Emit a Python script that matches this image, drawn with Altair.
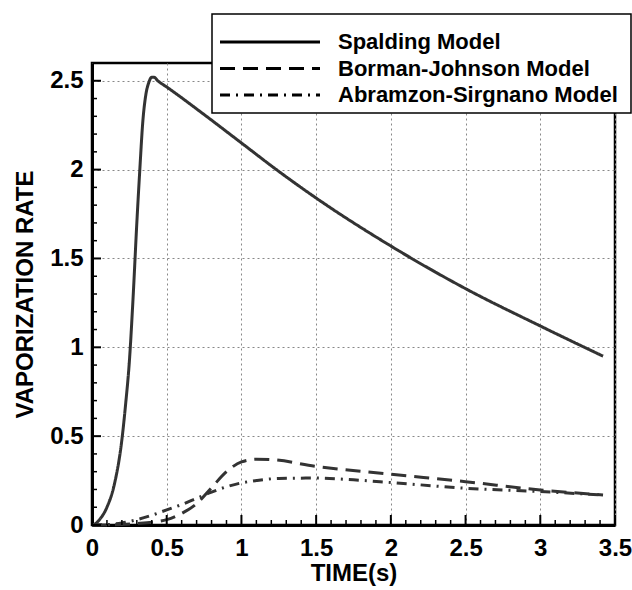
import altair as alt
import pandas as pd

series_names = ["Spalding Model", "Borman-Johnson Model", "Abramzon-Sirgnano Model"]

spald_t = [0, 0.027, 0.05, 0.1, 0.15, 0.2, 0.225, 0.25, 0.275, 0.3, 0.32, 0.34, 0.36, 0.38, 0.4, 0.415,
           0.44, 0.5, 0.75, 1.0, 1.25, 1.5, 2.0, 2.5, 3.0, 3.42]
spald_v = [0, 0.01, 0.03, 0.10, 0.23, 0.48, 0.68, 0.92, 1.28, 1.70, 2.0, 2.27, 2.42, 2.49, 2.52, 2.52,
           2.50, 2.465, 2.31, 2.15, 1.99, 1.84, 1.57, 1.33, 1.12, 0.95]

bj_t = [0, 0.1, 0.2, 0.3, 0.4, 0.5, 0.6, 0.7, 0.8, 0.9, 1.0, 1.1, 1.2, 1.5, 2.0, 2.5, 3.0, 3.42]
bj_v = [0, 0.0, 0.003, 0.008, 0.015, 0.03, 0.065, 0.12, 0.21, 0.30, 0.355, 0.37, 0.368, 0.33, 0.286,
        0.244, 0.197, 0.169]

as_t = [0, 0.1, 0.2, 0.3, 0.4, 0.5, 0.6, 0.7, 0.8, 0.9, 1.0, 1.1, 1.25, 1.5, 1.75, 2.0, 2.5, 3.0, 3.42]
as_v = [0, 0.002, 0.012, 0.03, 0.055, 0.085, 0.115, 0.15, 0.185, 0.215, 0.237, 0.25, 0.262, 0.264,
        0.254, 0.239, 0.207, 0.188, 0.169]

x_major = [0, 0.5, 1, 1.5, 2, 2.5, 3, 3.5]
y_major = [0, 0.5, 1, 1.5, 2, 2.5]
x_minor = [round(i * 0.1, 1) for i in range(1, 35) if i % 5 != 0]
y_minor = [round(i * 0.1, 1) for i in range(1, 26) if i % 5 != 0]

FONT = "Liberation Sans"
W, H = 523, 462

rows = []
for name, ts, vs in [(series_names[0], spald_t, spald_v), (series_names[1], bj_t, bj_v),
                     (series_names[2], as_t, as_v)]:
    for t, v in zip(ts, vs):
        rows.append({"t": t, "v": v, "series": name})
df = pd.DataFrame(rows)

xscale = alt.Scale(domain=[0, 3.5], nice=False, zero=False)
yscale = alt.Scale(domain=[0, 2.6], nice=False)
dash_scale = alt.Scale(domain=series_names, range=[[1, 0], [15, 8], [10, 6, 2, 6]])

ax_x = alt.Axis(
    values=x_major, format="~g", title="TIME(s)", ticks=False, grid=True,
    gridDash=[2, 3], gridColor="#888888", gridWidth=1, domainColor="black", domainWidth=3,
    labelFont=FONT, labelFontSize=24, labelFontWeight="bold", labelColor="black",
    labelPadding=11, labelFlush=False, titleFont=FONT, titleFontSize=24,
    titleFontWeight="bold", titleColor="black", titlePadding=1)
ax_y = alt.Axis(
    values=y_major, format="~g", title="VAPORIZATION RATE", ticks=False, grid=True,
    gridDash=[2, 3], gridColor="#888888", gridWidth=1, domainColor="black", domainWidth=3,
    labelFont=FONT, labelFontSize=24, labelFontWeight="bold", labelColor="black",
    labelPadding=9, labelFlush=False, titleFont=FONT, titleFontSize=24,
    titleFontWeight="bold", titleColor="black", titlePadding=12)

lines = alt.Chart(df).mark_line(color="#333333", strokeWidth=3, interpolate="monotone").encode(
    x=alt.X("t:Q", scale=xscale, axis=ax_x),
    y=alt.Y("v:Q", scale=yscale, axis=ax_y),
    strokeDash=alt.StrokeDash("series:N", scale=dash_scale, legend=None),
    detail="series:N",
)

xmaj = alt.Chart(pd.DataFrame({"t": x_major})).mark_rule(color="black", strokeWidth=2).encode(
    x=alt.X("t:Q", scale=xscale, axis=ax_x), y=alt.value(H), y2=alt.value(H - 10))
xmin = alt.Chart(pd.DataFrame({"t": x_minor})).mark_rule(color="black", strokeWidth=1.5).encode(
    x=alt.X("t:Q", scale=xscale, axis=ax_x), y=alt.value(H), y2=alt.value(H - 5))
ymaj = alt.Chart(pd.DataFrame({"v": y_major})).mark_rule(color="black", strokeWidth=2).encode(
    y=alt.Y("v:Q", scale=yscale, axis=ax_y), x=alt.value(0), x2=alt.value(9))
ymin = alt.Chart(pd.DataFrame({"v": y_minor})).mark_rule(color="black", strokeWidth=1.5).encode(
    y=alt.Y("v:Q", scale=yscale, axis=ax_y), x=alt.value(0), x2=alt.value(5))

leg_df = pd.DataFrame({"series": series_names})
box = alt.Chart(pd.DataFrame({"k": [0]})).mark_rect(fill="white", stroke="black", strokeWidth=1.5).encode(
    x=alt.value(120), x2=alt.value(539), y=alt.value(-49), y2=alt.value(50))

legend_layers = []
for i, name in enumerate(series_names):
    ly = -21 + 26.5 * i
    base = alt.Chart(leg_df).transform_filter(alt.datum.series == name)
    legend_layers.append(base.mark_rule(color="black", strokeWidth=3).encode(
        x=alt.value(128), x2=alt.value(228), y=alt.value(ly),
        strokeDash=alt.StrokeDash("series:N", scale=dash_scale, legend=None)))
    legend_layers.append(base.mark_text(align="left", baseline="middle", font=FONT, fontSize=22,
                                        fontWeight="bold", color="black").encode(
        x=alt.value(246), y=alt.value(ly), text="series:N"))

chart = alt.layer(lines, xmaj, xmin, ymaj, ymin, box, *legend_layers).properties(
    width=W, height=H,
    padding={"left": 92, "top": 63, "right": 17, "bottom": 65},
    autosize=alt.AutoSizeParams(type="none"),
).configure_view(stroke="black", strokeWidth=2.5)

chart.save("out.html", embed_options={"renderer": "svg", "actions": False})
